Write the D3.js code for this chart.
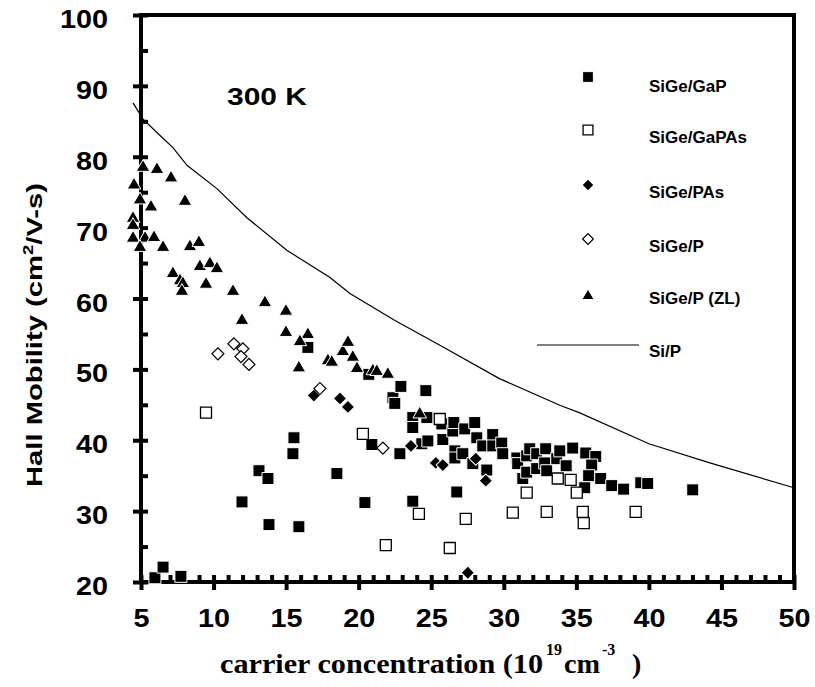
<!DOCTYPE html>
<html>
<head>
<meta charset="utf-8">
<script src="https://cdn.jsdelivr.net/npm/d3@7"></script>
<style>
  html, body { margin: 0; padding: 0; background: #fff; }
  svg { display: block; }
  text { font-family: "Liberation Sans", Arial, sans-serif; font-weight: bold; fill: #000; }
  .serif { font-family: "Liberation Serif", "Times New Roman", serif; }
</style>
</head>
<body>
<div id="chart"></div>
<script>
// axis ticks
const xTicks = [5, 10, 15, 20, 25, 30, 35, 40, 45, 50];
const yTicks = [20, 30, 40, 50, 60, 70, 80, 90, 100];
const yMinorTicks = [25, 35, 45, 55, 65, 75, 85, 95];
const xMinorTicks = d3.range(5, 51).filter(v => v % 5 !== 0);

const legendLabels = ["SiGe/GaP", "SiGe/GaPAs", "SiGe/PAs", "SiGe/P", "SiGe/P (ZL)", "Si/P"];

// [carrier concentration (1e19 cm-3), Hall mobility]
const sigeGaP = [
  [5.96, 20.6], [6.52, 22.1], [7.75, 20.8], [11.96, 31.3], [13.13, 35.7], [13.75, 34.6],
  [13.82, 28.1], [15.54, 40.35], [15.47, 38.1], [15.88, 27.8], [16.5, 53.1], [18.5, 35.3],
  [20.43, 31.2], [20.7, 49.3], [20.91, 39.4], [22.36, 46.0], [22.49, 45.2], [22.84, 38.1],
  [22.91, 47.6], [23.73, 31.4], [23.73, 43.2], [23.73, 41.8], [24.35, 39.5], [24.63, 47.0],
  [24.7, 43.2], [24.77, 39.9], [25.73, 42.3], [25.8, 40.1], [26.49, 41.3], [26.56, 42.5],
  [26.63, 38.5], [26.63, 37.5], [26.76, 32.7], [27.18, 38.1], [27.31, 41.6], [27.87, 36.7],
  [28.0, 42.5], [28.14, 40.35], [28.55, 39.2], [28.83, 35.8], [29.24, 40.8], [29.24, 39.2],
  [29.86, 39.6], [29.93, 38.1], [30.9, 37.5], [30.96, 36.7], [31.31, 34.6], [31.58, 37.8],
  [31.58, 35.5], [31.79, 38.8], [32.27, 38.1], [32.27, 36.0], [32.82, 36.8], [32.89, 38.8],
  [32.96, 35.7], [33.65, 37.4], [33.86, 38.5], [34.3, 36.4], [34.75, 38.9], [35.65, 38.2],
  [36.34, 37.7], [36.06, 36.5], [35.85, 35.0], [36.68, 34.6], [37.44, 33.6], [38.26, 33.1],
  [39.44, 34.0], [39.92, 33.9], [43.02, 33.0], [35.58, 33.3]
];
const sigeGaPAs = [
  [9.48, 43.9], [20.29, 40.9], [21.87, 25.2], [24.15, 29.6], [25.59, 43.0], [26.28, 24.8],
  [27.38, 28.9], [30.62, 29.8], [31.58, 32.6], [32.96, 29.9], [33.72, 34.6], [34.61, 34.4],
  [35.03, 32.6], [35.44, 29.9], [35.51, 28.3], [39.09, 29.9]
];
const sigePAs = [
  [16.91, 46.3], [18.71, 45.9], [19.26, 44.7], [23.6, 39.2], [25.32, 36.8], [25.8, 36.5],
  [28.07, 37.4], [28.76, 34.3], [27.52, 21.3]
];
const sigeP = [
  [10.3, 52.2], [11.4, 53.6], [12.02, 52.9], [11.89, 51.8], [12.44, 50.7], [17.33, 47.3],
  [21.67, 38.9]
];
const sigePZL = [
  [5.14, 78.5], [6.1, 78.2], [7.07, 77.0], [4.52, 76.0], [4.93, 73.9], [5.69, 72.9],
  [8.03, 73.7], [4.45, 71.3], [4.45, 70.3], [4.45, 68.5], [5.28, 68.5], [5.9, 68.6],
  [4.93, 67.2], [6.52, 67.2], [8.37, 67.3], [8.99, 67.9], [7.2, 63.5], [7.69, 62.5],
  [7.89, 62.1], [7.82, 61.0], [9.06, 64.5], [9.75, 64.9], [10.23, 64.2], [9.48, 62.0],
  [11.34, 61.0], [13.54, 59.4], [11.96, 56.9], [14.99, 58.2], [14.99, 55.2], [16.5, 54.9],
  [15.95, 53.9], [15.88, 50.2], [17.88, 51.2], [18.91, 52.5], [19.26, 53.8], [19.6, 51.7],
  [19.88, 50.1], [18.15, 51.0], [20.98, 49.8], [21.25, 49.7], [22.01, 49.3], [24.21, 43.7]
];
const siP = [
  [4.45, 87.6], [5.14, 85.3], [6.31, 83.0], [7.2, 81.3], [8.17, 78.8], [10.23, 75.5],
  [12.3, 71.4], [15.05, 66.8], [18.0, 63.0], [19.4, 60.7], [22.5, 56.9], [25.6, 53.4],
  [29.7, 48.7], [33.9, 44.9], [35.2, 43.9], [40.0, 39.5], [44.2, 36.8], [50.0, 33.3]
];

const W = 815, H = 687;
const margin = {left: 141, top: 15};
const pw = 653, ph = 567;

const svg = d3.select("#chart").append("svg").attr("width", W).attr("height", H);
const g = svg.append("g").attr("transform", "translate(" + margin.left + "," + margin.top + ")");

const x = d3.scaleLinear().domain([5, 50]).range([0, pw]);
const y = d3.scaleLinear().domain([20, 100]).range([ph, 0]);

// frame
g.append("rect").attr("width", pw).attr("height", ph)
  .attr("fill", "none").attr("stroke", "#000").attr("stroke-width", 4);

// y axis
const yAxis = g.append("g").call(d3.axisLeft(y).tickValues(yTicks).tickSize(8).tickPadding(25));
yAxis.select(".domain").remove();
yAxis.selectAll("line").attr("x1", 7).attr("stroke-width", 4);
yAxis.selectAll("text")
  .attr("font-size", 25).attr("font-family", null).attr("dy", "0.5em")
  .attr("textLength", d => String(d).length * 16).attr("lengthAdjust", "spacingAndGlyphs");

const yMinor = g.append("g").call(d3.axisLeft(y).tickValues(yMinorTicks).tickSize(-7).tickFormat(""));
yMinor.select(".domain").remove();
yMinor.selectAll("line").attr("stroke-width", 4);

// x axis
const xAxis = g.append("g").attr("transform", "translate(0," + ph + ")")
  .call(d3.axisBottom(x).tickValues(xTicks).tickSize(8).tickPadding(19));
xAxis.select(".domain").remove();
xAxis.selectAll("line").attr("y1", -7).attr("stroke-width", 4);
xAxis.selectAll("text")
  .attr("font-size", 25).attr("font-family", null)
  .attr("textLength", d => String(d).length * 16).attr("lengthAdjust", "spacingAndGlyphs");

const xMinor = g.append("g").attr("transform", "translate(0," + ph + ")")
  .call(d3.axisBottom(x).tickValues(xMinorTicks).tickSize(-7).tickFormat(""));
xMinor.select(".domain").remove();
xMinor.selectAll("line").attr("stroke-width", 4);

// Si/P line
g.append("path").datum(siP)
  .attr("d", d3.line().x(d => x(d[0])).y(d => y(d[1])))
  .attr("fill", "none").attr("stroke", "#000").attr("stroke-width", 1.2);

// marker styles
const markers = {
  square:  {type: d3.symbolSquare, size: 144, rot: 0, fill: "#000", stroke: "#fff", sw: 1},
  osquare: {type: d3.symbolSquare, size: 121, rot: 0, fill: "#fff", stroke: "#000", sw: 1.3},
  diamond: {type: d3.symbolSquare, size: 88, rot: 45, fill: "#000", stroke: "#fff", sw: 1},
  odiamond:{type: d3.symbolSquare, size: 72, rot: 45, fill: "#fff", stroke: "#000", sw: 1.2},
  tri:     {type: d3.symbolTriangle, size: 80, rot: 0, fill: "#000", stroke: "#fff", sw: 1}
};

function drawPoints(data, m) {
  const st = markers[m];
  g.append("g").selectAll("path").data(data).enter().append("path")
    .attr("d", d3.symbol(st.type, st.size)())
    .attr("transform", d => "translate(" + x(d[0]) + "," + y(d[1]) + ") rotate(" + st.rot + ")")
    .attr("fill", st.fill).attr("stroke", st.stroke).attr("stroke-width", st.sw);
}
drawPoints(sigeGaP, "square");
drawPoints(sigeGaPAs, "osquare");
drawPoints(sigePAs, "diamond");
drawPoints(sigeP, "odiamond");
drawPoints(sigePZL, "tri");

// legend
const legendKinds = ["square", "osquare", "diamond", "odiamond", "tri"];
const legendMarkY = [77, 130, 185, 239, 296];
const legendTextY = [92, 143, 198, 252, 304, 357];
legendKinds.forEach((k, i) => {
  const st = markers[k];
  svg.append("path")
    .attr("d", d3.symbol(st.type, st.size * 0.8)())
    .attr("transform", "translate(588," + legendMarkY[i] + ") rotate(" + st.rot + ")")
    .attr("fill", st.fill).attr("stroke", st.stroke).attr("stroke-width", st.sw);
});
svg.append("line").attr("x1", 537).attr("x2", 639).attr("y1", 345).attr("y2", 345)
  .attr("stroke", "#000").attr("stroke-width", 1.2);
legendLabels.forEach((t, i) => {
  svg.append("text").attr("x", 649).attr("y", legendTextY[i]).attr("font-size", 17).text(t);
});

// 300 K
svg.append("text").attr("x", 227).attr("y", 105).attr("font-size", 24)
  .attr("textLength", 80).attr("lengthAdjust", "spacingAndGlyphs").text("300 K");

// y title
const yt = svg.append("text").attr("transform", "translate(42,335) rotate(-90)")
  .attr("text-anchor", "middle").attr("font-size", 22)
  .attr("textLength", 304).attr("lengthAdjust", "spacingAndGlyphs");
yt.append("tspan").text("Hall Mobility (cm");
yt.append("tspan").attr("font-size", 14).attr("dy", -9).text("2");
yt.append("tspan").attr("dy", 9).text("/V-s)");

// x title
svg.append("text").attr("class", "serif").attr("x", 220).attr("y", 673).attr("font-size", 28)
  .attr("textLength", 323).attr("lengthAdjust", "spacingAndGlyphs").text("carrier concentration (10");
svg.append("text").attr("class", "serif").attr("x", 546).attr("y", 655).attr("font-size", 16).text("19");
svg.append("text").attr("class", "serif").attr("x", 564).attr("y", 673).attr("font-size", 28)
  .attr("textLength", 36).attr("lengthAdjust", "spacingAndGlyphs").text("cm");
svg.append("text").attr("class", "serif").attr("x", 602).attr("y", 655).attr("font-size", 16).text("-3");
svg.append("text").attr("class", "serif").attr("x", 632).attr("y", 673).attr("font-size", 28).text(")");
</script>
</body>
</html>
